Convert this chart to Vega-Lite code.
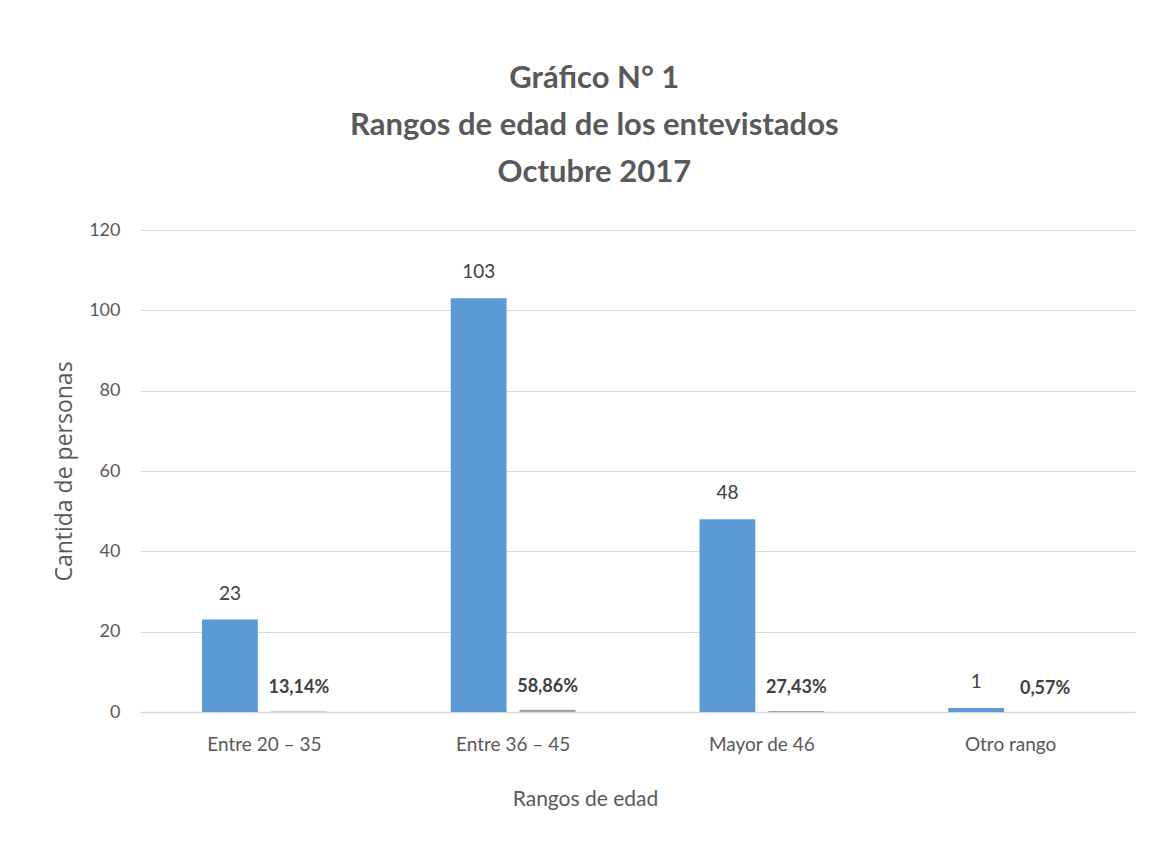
{
  "$schema": "https://vega.github.io/schema/vega-lite/v6.json",
  "width": 995,
  "height": 482,
  "autosize": {"type": "none"},
  "padding": {"left": 140, "top": 230, "right": 28, "bottom": 135},
  "background": "white",
  "title": {
    "text": ["Gráfico N° 1", "Rangos de edad de los entevistados", "Octubre 2017"],
    "font": "Lato",
    "fontSize": 31,
    "fontWeight": "bold",
    "color": "#595959",
    "lineHeight": 47,
    "anchor": "middle",
    "frame": "bounds",
    "offset": 32
  },
  "data": {
    "values": [
      {"rango": "Entre 20 – 35", "serie": "Cantidad", "valor": 23, "etiqueta": "23"},
      {"rango": "Entre 20 – 35", "serie": "Porcentaje", "valor": 0.1314, "etiqueta": "13,14%"},
      {"rango": "Entre 36 – 45", "serie": "Cantidad", "valor": 103, "etiqueta": "103"},
      {"rango": "Entre 36 – 45", "serie": "Porcentaje", "valor": 0.5886, "etiqueta": "58,86%"},
      {"rango": "Mayor de 46", "serie": "Cantidad", "valor": 48, "etiqueta": "48"},
      {"rango": "Mayor de 46", "serie": "Porcentaje", "valor": 0.2743, "etiqueta": "27,43%"},
      {"rango": "Otro rango", "serie": "Cantidad", "valor": 1, "etiqueta": "1"},
      {"rango": "Otro rango", "serie": "Porcentaje", "valor": 0.0057, "etiqueta": "0,57%"}
    ]
  },
  "encoding": {
    "x": {
      "field": "rango",
      "type": "nominal",
      "sort": null,
      "scale": {"paddingInner": 0, "paddingOuter": 0},
      "axis": {
        "title": "Rangos de edad",
        "titleFont": "Lato",
        "titleFontSize": 21,
        "titleFontWeight": "normal",
        "titleColor": "#595959",
        "titlePadding": 34,
        "titleX": 445,
        "labelFont": "Lato",
        "labelFontSize": 19,
        "labelColor": "#595959",
        "labelAngle": 0,
        "labelPadding": 23,
        "ticks": false,
        "domain": true,
        "domainColor": "#d9d9d9",
        "domainWidth": 1.5,
        "grid": false
      }
    },
    "xOffset": {
      "field": "serie",
      "type": "nominal",
      "scale": {"paddingInner": 0.19, "paddingOuter": 0.9}
    },
    "y": {
      "field": "valor",
      "type": "quantitative",
      "scale": {"domain": [0, 120], "nice": false},
      "axis": {
        "title": "Cantida de personas",
        "titleFont": "Open Sans",
        "titleFontSize": 23,
        "titleFontWeight": "normal",
        "titleColor": "#595959",
        "titlePadding": 12,
        "labelFont": "Lato",
        "labelFontSize": 18,
        "labelColor": "#595959",
        "labelPadding": 20,
        "values": [0, 20, 40, 60, 80, 100, 120],
        "ticks": false,
        "domain": false,
        "grid": true,
        "gridColor": "#d9d9d9",
        "gridWidth": 1.2
      }
    }
  },
  "layer": [
    {
      "mark": {"type": "bar"},
      "encoding": {
        "color": {
          "field": "serie",
          "type": "nominal",
          "scale": {"domain": ["Cantidad", "Porcentaje"], "range": ["#5b9bd5", "#a5a5a5"]},
          "legend": null
        }
      }
    },
    {
      "transform": [{"filter": "datum.serie == 'Cantidad'"}],
      "mark": {"type": "text", "font": "Lato", "fontSize": 19, "color": "#404040", "baseline": "bottom", "dy": -16},
      "encoding": {"text": {"field": "etiqueta"}}
    },
    {
      "transform": [{"filter": "datum.serie == 'Porcentaje'"}],
      "mark": {"type": "text", "font": "Lato", "fontSize": 18, "fontWeight": "bold", "color": "#404040", "baseline": "bottom", "dy": -14},
      "encoding": {"text": {"field": "etiqueta"}}
    }
  ],
  "config": {"view": {"stroke": null}}
}
